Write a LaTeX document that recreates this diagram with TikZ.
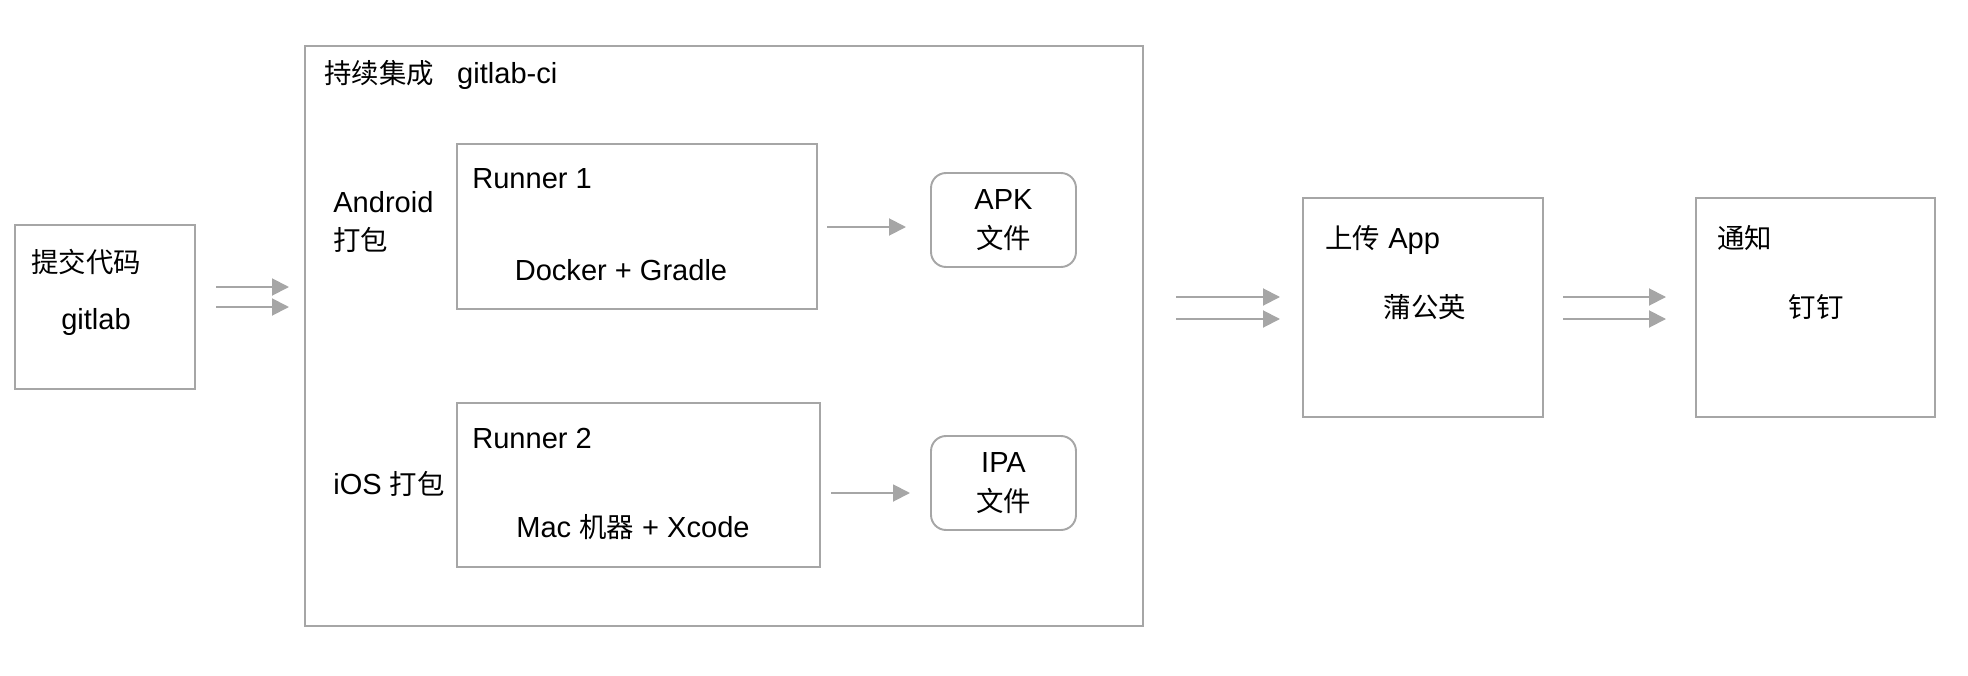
\documentclass[tikz,border=0pt]{standalone}
\usepackage{fontspec}
\setmainfont[Scale=1.06]{Liberation Sans}
\newfontfamily\cjk{Noto Sans CJK SC}
\usetikzlibrary{positioning,arrows.meta}
\definecolor{edgegray}{HTML}{A6A6A6}

\begin{document}
\begin{tikzpicture}[x=0.02cm, y=-0.02cm, font=\fontsize{15.6}{22}\selectfont]
    % Styles
    \tikzstyle{box} = [draw=edgegray, line width=1.1pt, rectangle, inner sep=0pt]
    \tikzstyle{file} = [box, rounded corners=0.3cm, align=center, minimum width=2.9cm, minimum height=1.88cm]
    \tikzstyle{txt} = [inner sep=0pt, anchor=west, align=left]
    \tikzstyle{mid} = [inner sep=0pt]
    \tikzstyle{flow} = [edgegray, line width=1.1pt, -{Triangle[length=0.34cm, width=0.34cm]}]

    \useasboundingbox (0,0) rectangle (1968,676);

    % Boxes
    \node [box, minimum width=3.6cm, minimum height=3.28cm] (commit) at (105,307) {};
    \node [box, minimum width=16.76cm, minimum height=11.6cm] (ci) at (724,336) {};
    \node [box, minimum width=7.2cm, minimum height=3.3cm] (runA) at (637,226.5) {};
    \node [box, minimum width=7.26cm, minimum height=3.28cm] (runI) at (638.5,485) {};
    \node [file] (apk) at (1003.5,220) {APK\\{\cjk 文件}};
    \node [file] (ipa) at (1003.5,483) {IPA\\{\cjk 文件}};
    \node [box, minimum width=4.8cm, minimum height=4.38cm] (upload) at (1423,307.5) {};
    \node [box, minimum width=4.78cm, minimum height=4.38cm] (notify) at (1815.5,307.5) {};

    % Texts
    \node [txt] (commitT) at (31,262) {\cjk 提交代码};
    \node [mid] (gitlab) at (96,322) {gitlab};
    \node [txt] (ciT) at (324,75) {{\cjk 持续集成}\hspace{0.8em}gitlab-ci};
    \node [txt] (android) at (333,222) {Android\\{\cjk 打包}};
    \node [txt] (ios) at (333,484) {iOS {\cjk 打包}};
    \node [txt] (runAT) at (472,179) {Runner 1};
    \node [mid] (docker) at (621,270) {Docker + Gradle};
    \node [txt] (runIT) at (472,438) {Runner 2};
    \node [mid] (mac) at (633,527) {Mac {\cjk 机器} + Xcode};
    \node [txt] (uploadT) at (1325,240) {{\cjk 上传} App};
    \node [mid] (pgyer) at (1425,307) {\cjk 蒲公英};
    \node [txt] (notifyT) at (1717,238) {\cjk 通知};
    \node [mid] (dingtalk) at (1816,307) {\cjk 钉钉};

    % Connections
    \foreach \y/\n in {287/1,307/2} {
        \coordinate (pushS\n) at (216,\y);
        \coordinate (pushE\n) at (289,\y);
        \draw [flow] (pushS\n) -- (pushE\n);
    }
    \coordinate (apkS) at (827,227);
    \coordinate (apkE) at (906,227);
    \draw [flow] (apkS) -- (apkE);
    \coordinate (ipaS) at (831,493);
    \coordinate (ipaE) at (910,493);
    \draw [flow] (ipaS) -- (ipaE);
    \foreach \y/\n in {297/1,319/2} {
        \coordinate (upS\n) at (1176,\y);
        \coordinate (upE\n) at (1280,\y);
        \draw [flow] (upS\n) -- (upE\n);
        \coordinate (ntS\n) at (1563,\y);
        \coordinate (ntE\n) at (1666,\y);
        \draw [flow] (ntS\n) -- (ntE\n);
    }
\end{tikzpicture}
\end{document}
